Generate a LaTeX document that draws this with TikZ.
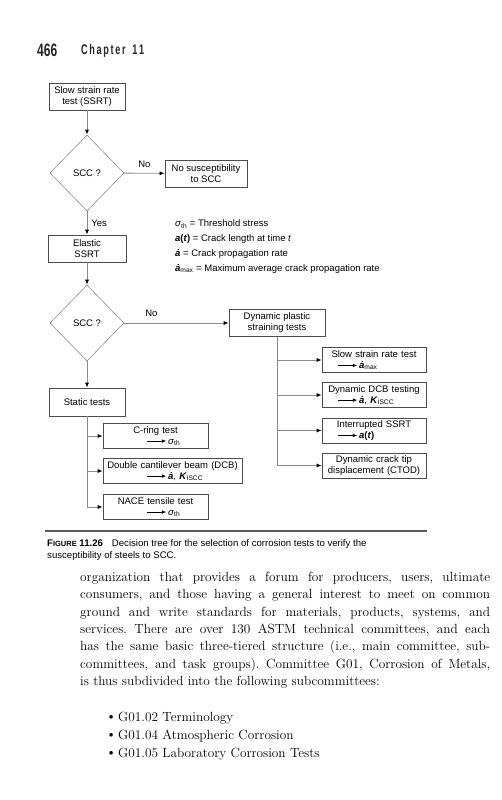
\documentclass[tikz,border=0pt]{standalone}
\usepackage{graphicx}
\usepackage{fontspec}
\setmainfont{Liberation Sans}
\newfontfamily\bodyfont{Latin Modern Roman}
\usetikzlibrary{shapes.geometric,arrows.meta}
\frenchspacing
\newcommand\myarr{\tikz[baseline=-0.6ex]\draw[black,line width=0.6pt,-{Latex[length=4.5pt,width=3.5pt]}] (0pt,0pt)--(19pt,0pt);}
\newcommand\sig{\textit{σ}\textsubscript{th}}
\newcommand\adot{\textbf{\textit{\.a}}}
\newcommand\kiscc{\textbf{\textit{K}}\textsubscript{ISCC}}
\newcommand\aoft{\textbf{\textit{a}(\textit{t})}}
\tikzset{
  fcfont/.style={font=\fontsize{9.5}{11}\selectfont},
  box/.style={draw=black!70, line width=0.6pt, fill=white, align=center, inner sep=2pt, fcfont},
  rbox/.style={box, text width=104pt, inner xsep=0pt, minimum height=25pt},
  lbox/.style={box, text width=105pt, inner xsep=0pt, minimum height=25pt},
  wbox/.style={box, text width=139pt, inner xsep=0pt, minimum height=25pt},
  dia/.style={draw=black!45, line width=0.6pt, diamond, minimum width=74pt, minimum height=76pt, inner sep=0pt, fcfont},
  conn/.style={draw=black!45, line width=0.9pt, -{Latex[length=5pt,width=4pt,black]}},
  lbl/.style={fcfont, inner sep=0pt},
  body/.style={anchor=west, inner sep=0pt, font=\bodyfont\frenchspacing\fontsize{13.3}{15}\selectfont},
  capt/.style={anchor=west, inner sep=0pt, font=\fontsize{9.6}{11}\selectfont},
}
\begin{document}
\begin{tikzpicture}[x=1pt,y=-1pt]
\useasboundingbox (0,0) rectangle (501,800);
% header
\node[anchor=west, inner sep=0pt, text=black!85] (pg) at (37,50.5) {\scalebox{0.67}[1]{\fontsize{18}{18}\selectfont\bfseries 466}};
\node[anchor=west, inner sep=0pt, text=black!85] (ch) at (81,51) {\scalebox{0.65}[1]{\fontsize{14}{14}\selectfont\bfseries\makebox[97pt][s]{C\hfill h\hfill a\hfill p\hfill t\hfill e\hfill r\hfill\hspace{8pt}1\hfill 1}}};
% flowchart
\node[box, minimum width=76pt, minimum height=27pt] (ssrt) at (87,96.5) {Slow strain rate\\test (SSRT)};
\node[dia] (d1) at (87,173) {SCC ?};
\node[box, minimum width=82pt, minimum height=27pt] (nosus) at (206,173.5) {No susceptibility\\to SCC};
\node[box, minimum width=78pt, minimum height=27pt] (el) at (87,248.5) {Elastic\\SSRT};
\node[dia] (d2) at (87,323) {SCC ?};
\node[box, minimum width=96pt, minimum height=27pt] (dyn) at (277,323) {Dynamic plastic\\straining tests};
\node[box, minimum width=76pt, minimum height=28pt] (stat) at (87,402) {Static tests};
% right boxes
\node[rbox] (r1) at (374,360) {Slow strain rate test\\\makebox[\linewidth][l]{\hspace*{16pt}\myarr\,\adot\textsubscript{max}}};
\node[rbox] (r2) at (374,395) {Dynamic DCB testing\\\makebox[\linewidth][l]{\hspace*{16pt}\myarr\,\adot, \kiscc}};
\node[rbox] (r3) at (374,430.5) {Interrupted SSRT\\\makebox[\linewidth][l]{\hspace*{16pt}\myarr\,\aoft}};
\node[rbox] (r4) at (374,465.5) {Dynamic crack tip\\displacement (CTOD)};
% left boxes
\node[lbox] (c1) at (155.5,436) {C-ring test\\\makebox[\linewidth][l]{\hspace*{44pt}\myarr\,\sig}};
\node[wbox] (c2) at (172.5,471) {Double cantilever beam (DCB)\\\makebox[\linewidth][l]{\hspace*{44pt}\myarr\,\adot, \kiscc}};
\node[lbox] (c3) at (155.5,507) {NACE tensile test\\\makebox[\linewidth][l]{\hspace*{44pt}\myarr\,\sig}};
% connectors
\draw[conn] (ssrt) -- (d1);
\draw[conn] (d1) -- node[lbl, above=5pt] (no1) {No} (nosus);
\draw[conn] (d1) -- node[lbl, right=4pt] (yes1) {Yes} (el);
\draw[conn] (el) -- (d2);
\draw[conn] (d2) -- node[lbl, above=6pt, pos=0.26] (no2) {No} (dyn);
\draw[conn] (d2) -- (stat);
\draw[conn] (dyn.south) |- (r1.west);
\draw[conn] (dyn.south) |- (r2.west);
\draw[conn] (dyn.south) |- (r3.west);
\draw[conn] (dyn.south) |- (r4.west);
\draw[conn] (stat.south) |- (c1.west);
\draw[conn] (stat.south) |- (c2.west);
\draw[conn] (stat.south) |- (c3.west);
% legend
\node[lbl, anchor=west] (lg1) at (175,224) {\sig{} = Threshold stress};
\node[lbl, anchor=west] (lg2) at (175,239) {\aoft{} = Crack length at time \textit{t}};
\node[lbl, anchor=west] (lg3) at (175,254) {\adot{} = Crack propagation rate};
\node[lbl, anchor=west] (lg4) at (175,269) {\adot\textsubscript{max} = Maximum average crack propagation rate};
% caption
\draw[black!65, line width=1.2pt] (45,531) -- (427,531);
\node[capt] (cap1) at (47,544) {\textbf{F{\fontsize{7.5}{8}\selectfont IGURE} 11.26}\hspace{9pt}Decision tree for the selection of corrosion tests to verify the};
\node[capt] (cap2) at (47,556) {susceptibility of steels to SCC.};
% body text
\node[body] (t1) at (80,578) {\makebox[410pt][s]{organization that provides a forum for producers, users, ultimate}};
\node[body] (t2) at (80,595.4) {\makebox[410pt][s]{consumers, and those having a general interest to meet on common}};
\node[body] (t3) at (80,612.8) {\makebox[410pt][s]{ground and write standards for materials, products, systems, and}};
\node[body] (t4) at (80,630.2) {\makebox[410pt][s]{services. There are over 130 ASTM technical committees, and each}};
\node[body] (t5) at (80,647.6) {\makebox[410pt][s]{has the same basic three-tiered structure (i.e., main committee, sub-}};
\node[body] (t6) at (80,665) {\makebox[410pt][s]{committees, and task groups). Committee G01, Corrosion of Metals,}};
\node[body] (t7) at (80,682.4) {is thus subdivided into the following subcommittees:};
\node[body] (b1) at (106,718) {\textbullet};
\node[body] (b2) at (106,736) {\textbullet};
\node[body] (b3) at (106,754) {\textbullet};
\node[body] (i1) at (118,718) {G01.02 Terminology};
\node[body] (i2) at (118,736) {G01.04 Atmospheric Corrosion};
\node[body] (i3) at (118,754) {G01.05 Laboratory Corrosion Tests};
\end{tikzpicture}
\end{document}
